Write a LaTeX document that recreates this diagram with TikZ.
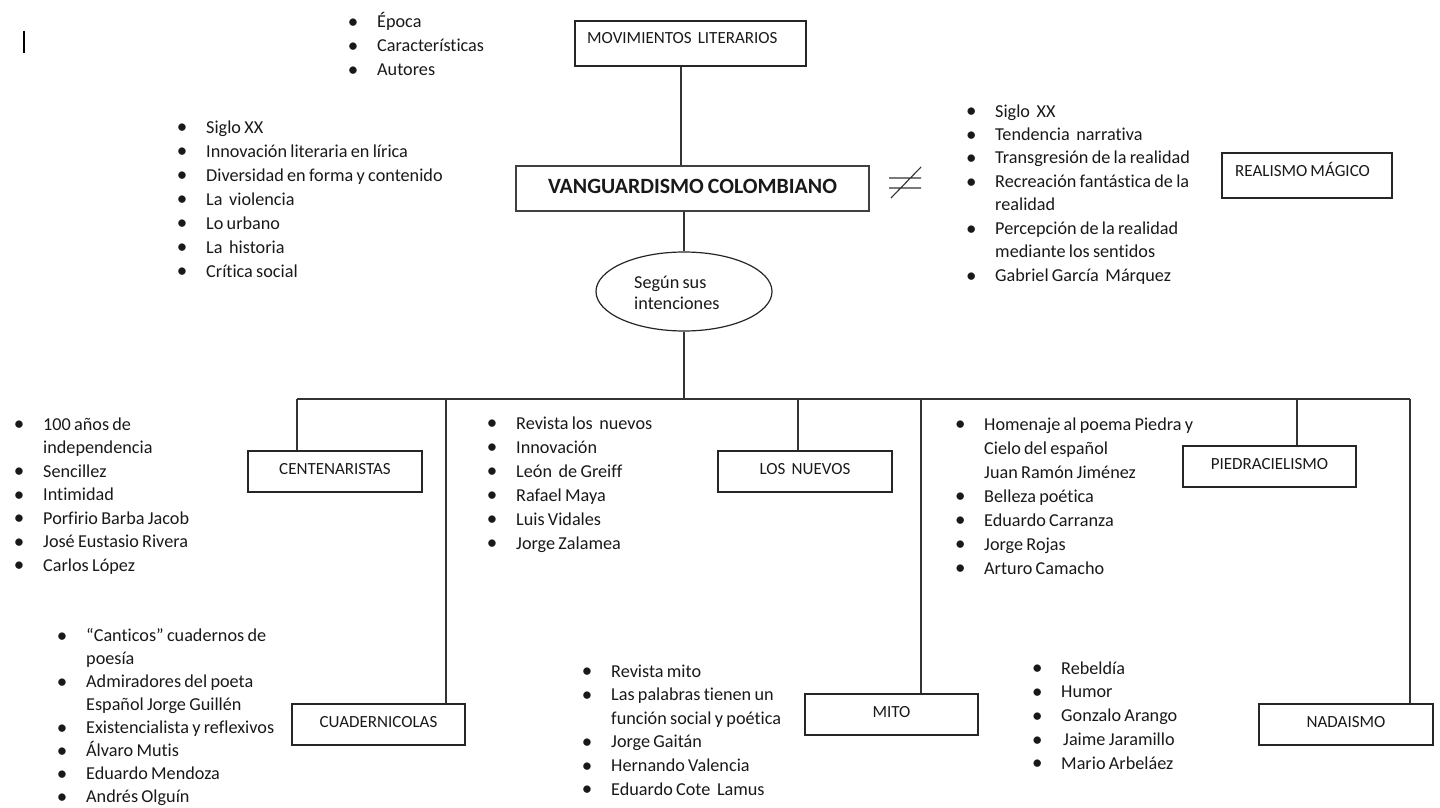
\documentclass[tikz,border=0pt]{standalone}
\usepackage{fontspec}
\setmainfont{Carlito}[Ligatures=NoCommon, WordSpace=0.8]
\usetikzlibrary{shapes.geometric,calc}
\newcommand\bi[1]{\makebox[0pt]{\raisebox{-0.9pt}{\scalebox{1.15}{\textbullet}}}\hspace{24pt}#1}
\newcommand\ci[1]{\hspace*{24pt}#1}
\newcommand\blist[1]{\begin{tabular}[t]{@{}l@{}}#1\end{tabular}}
\begin{document}
\begin{tikzpicture}[x=1pt,y=-1pt,
  box/.style={draw=black!85, line width=1.2pt, rectangle, inner sep=0pt,
    font=\fontsize{17}{20}\selectfont, text=black!90, text height=12pt, text depth=6pt},
  conn/.style={draw=black!80, line width=1.2pt},
  lst/.style={anchor=base west, inner sep=0pt, text=black!90, font=\fontsize{18.2}{#1}\selectfont},
  lbl/.style={anchor=base west, inner sep=0pt, text=black!90, font=\fontsize{17}{20}\selectfont}]
\useasboundingbox (0,0) rectangle (1440,808);

% cursor bar
\coordinate (curT) at (24,31);
\coordinate (curB) at (24,53);
\draw[line width=2.6pt, black] (curT) -- (curB);

% boxes
\node[box, minimum width=231pt, minimum height=45pt] (mov) at (690.5,43.5) {};
\node[lbl] (movt) at (587,43.5) {MOVIMIENTOS\ \ LITERARIOS};
\node[box, line width=2.2pt, draw=black!75, minimum width=353pt, minimum height=45pt,
  font=\fontsize{21.8}{24}\selectfont\bfseries, text height=15pt, text depth=6pt] (vang) at (692.5,188.5) {VANGUARDISMO COLOMBIANO};
\node[box, minimum width=170pt, minimum height=45pt] (real) at (1307,175.5) {};
\node[lbl] (realt) at (1235,176.5) {REALISMO MÁGICO};
\node[draw=black!85, line width=1.2pt, ellipse, minimum width=176pt, minimum height=79pt, inner sep=0pt] (ell) at (684,291.5) {};
\node[lst=21] (ellt) at (634,288.5) {\blist{Según sus\\intenciones}};

\node[box, minimum width=174pt, minimum height=41pt] (cent) at (335,471.5) {CENTENARISTAS};
\node[box, minimum width=173pt, minimum height=41pt] (cuad) at (378.5,724.5) {CUADERNICOLAS};
\node[box, minimum width=174pt, minimum height=41pt] (nuev) at (805,471.5) {LOS\ \ NUEVOS};
\node[box, minimum width=173pt, minimum height=41pt] (mito) at (891.5,714.5) {MITO};
\node[box, minimum width=173pt, minimum height=41pt] (pied) at (1269.5,466.5) {PIEDRACIELISMO};
\node[box, minimum width=174pt, minimum height=41pt] (nada) at (1346,724.5) {NADAISMO};

% not-equal sign
\coordinate (neA) at (889,178); \coordinate (neB) at (921,178);
\coordinate (neC) at (889,188); \coordinate (neD) at (921,188);
\coordinate (neE) at (891,198); \coordinate (neF) at (921,167);
\draw[line width=1.1pt, black!80] (neA) -- (neB) (neC) -- (neD) (neE) -- (neF);

% connectors
\coordinate (sp) at (681,0);
\draw[conn] (mov.south -| sp) -- (vang.north -| sp);
\draw[conn] (vang.south -| ell.north) -- (ell.north);
\coordinate (barL) at (297,399);
\coordinate (barR) at (1410,399);
\draw[conn] (ell.south) -- (ell.south |- barL);
\draw[conn] (barL) -- (barR);
\coordinate (d2) at (446,399);
\coordinate (d3) at (798,399);
\coordinate (d4) at (921,399);
\coordinate (d5) at (1297,399);
\draw[conn] (barL) -- (cent.north -| barL);
\draw[conn] (d2) -- (cuad.north -| d2);
\draw[conn] (d3) -- (nuev.north -| d3);
\draw[conn] (d4) -- (mito.north -| d4);
\draw[conn] (d5) -- (pied.north -| d5);
\draw[conn] (barR) -- (nada.north -| barR);

% lists
\node[lst=24] (l0) at (353,27.5) {\blist{\bi{Época}\\ \bi{Características}\\ \bi{Autores}}};
\node[lst=24] (l1) at (182,133) {\blist{\bi{Siglo XX}\\ \bi{Innovación literaria en lírica}\\ \bi{Diversidad en forma y contenido}\\ \bi{La\ \ violencia}\\ \bi{Lo urbano}\\ \bi{La\ \ historia}\\ \bi{Crítica social}}};
\node[lst=23.45] (l2) at (971,117) {\blist{\bi{Siglo\ \ XX}\\ \bi{Tendencia\ \ narrativa}\\ \bi{Transgresión de la realidad}\\ \bi{Recreación fantástica de la}\\ \ci{realidad}\\ \bi{Percepción de la realidad}\\ \ci{mediante los sentidos}\\ \bi{Gabriel García\ \ Márquez}}};
\node[lst=23.5] (l3) at (19,430) {\blist{\bi{100 años de}\\ \ci{independencia}\\ \bi{Sencillez}\\ \bi{Intimidad}\\ \bi{Porfirio Barba Jacob}\\ \bi{José Eustasio Rivera}\\ \bi{Carlos López}}};
\node[lst=24] (l4) at (492,429) {\blist{\bi{Revista los\ \ nuevos}\\ \bi{Innovación}\\ \bi{León\ \ de Greiff}\\ \bi{Rafael Maya}\\ \bi{Luis Vidales}\\ \bi{Jorge Zalamea}}};
\node[lst=24] (l5) at (960,430) {\blist{\bi{Homenaje al poema Piedra y}\\ \ci{Cielo del español}\\ \ci{Juan Ramón Jiménez}\\ \bi{Belleza poética}\\ \bi{Eduardo Carranza}\\ \bi{Jorge Rojas}\\ \bi{Arturo Camacho}}};
\node[lst=23.0] (l6) at (62,641.5) {\blist{\bi{“Canticos” cuadernos de}\\ \ci{poesía}\\ \bi{Admiradores del poeta}\\ \ci{Español Jorge Guillén}\\ \bi{Existencialista y reflexivos}\\ \bi{Álvaro Mutis}\\ \bi{Eduardo Mendoza}\\ \bi{Andrés Olguín}}};
\node[lst=23.6] (l7) at (587,677) {\blist{\bi{Revista mito}\\ \bi{Las palabras tienen un}\\ \ci{función social y poética}\\ \bi{Jorge Gaitán}\\ \bi{Hernando Valencia}\\ \bi{Eduardo Cote\ \ Lamus}}};
\node[lst=23.75] (l8) at (1037,674) {\blist{\bi{Rebeldía}\\ \bi{Humor}\\ \bi{Gonzalo Arango}\\ \bi{\hspace{2pt}Jaime Jaramillo}\\ \bi{Mario Arbeláez}}};
\end{tikzpicture}
\end{document}
